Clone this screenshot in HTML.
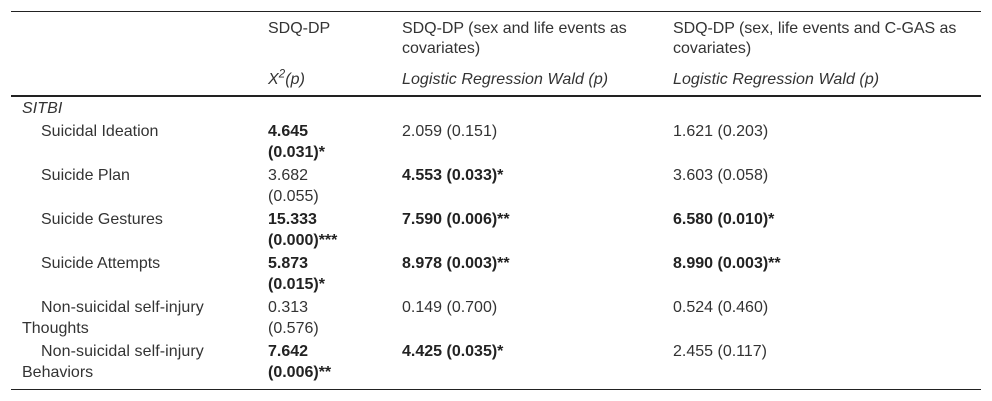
<!DOCTYPE html>
<html lang="en">
<head>
<meta charset="utf-8">
<title>SDQ-DP table</title>
<style>
html,body{margin:0;padding:0;background:#fff;}
#t{position:relative;width:992px;height:401px;overflow:hidden;font-family:"Liberation Sans",sans-serif;font-size:16px;color:#333;background:#fff;}
.l{position:absolute;white-space:nowrap;line-height:20px;height:20px;}
.r{position:absolute;left:11px;width:970px;background:#222;}
b{font-weight:bold;color:#222;}
i{font-style:italic;letter-spacing:.07px;}
sup{font-size:11.5px;line-height:0;}
</style>
</head>
<body>
<div id="t">
<div class="r" style="top:11px;height:1px"></div>
<div class="r" style="top:95px;height:2px"></div>
<div class="r" style="top:389px;height:1px"></div>

<div class="l" style="left:268px;top:19px">SDQ-DP</div>
<div class="l" style="left:402px;top:19px;letter-spacing:-.03px">SDQ-DP (sex and life events as</div>
<div class="l" style="left:402px;top:39px">covariates)</div>
<div class="l" style="left:673px;top:19px;letter-spacing:-.05px">SDQ-DP (sex, life events and C-GAS as</div>
<div class="l" style="left:673px;top:39px">covariates)</div>
<div class="l" style="left:268px;top:70px"><i>X<sup>2</sup>(p)</i></div>
<div class="l" style="left:402px;top:70px"><i>Logistic Regression Wald (p)</i></div>
<div class="l" style="left:673px;top:70px"><i>Logistic Regression Wald (p)</i></div>

<div class="l" style="left:22px;top:99px"><i>SITBI</i></div>

<div class="l" style="left:41px;top:122px">Suicidal Ideation</div>
<div class="l" style="left:268px;top:122px"><b>4.645</b></div>
<div class="l" style="left:268px;top:143px"><b>(0.031)*</b></div>
<div class="l" style="left:402px;top:122px">2.059 (0.151)</div>
<div class="l" style="left:673px;top:122px">1.621 (0.203)</div>

<div class="l" style="left:41px;top:166px">Suicide Plan</div>
<div class="l" style="left:268px;top:166px">3.682</div>
<div class="l" style="left:268px;top:187px">(0.055)</div>
<div class="l" style="left:402px;top:166px"><b>4.553 (0.033)*</b></div>
<div class="l" style="left:673px;top:166px">3.603 (0.058)</div>

<div class="l" style="left:41px;top:210px">Suicide Gestures</div>
<div class="l" style="left:268px;top:210px"><b>15.333</b></div>
<div class="l" style="left:268px;top:231px"><b>(0.000)***</b></div>
<div class="l" style="left:402px;top:210px"><b>7.590 (0.006)**</b></div>
<div class="l" style="left:673px;top:210px"><b>6.580 (0.010)*</b></div>

<div class="l" style="left:41px;top:254px">Suicide Attempts</div>
<div class="l" style="left:268px;top:254px"><b>5.873</b></div>
<div class="l" style="left:268px;top:275px"><b>(0.015)*</b></div>
<div class="l" style="left:402px;top:254px"><b>8.978 (0.003)**</b></div>
<div class="l" style="left:673px;top:254px"><b>8.990 (0.003)**</b></div>

<div class="l" style="left:41px;top:298px;letter-spacing:.08px">Non-suicidal self-injury</div>
<div class="l" style="left:22px;top:319px">Thoughts</div>
<div class="l" style="left:268px;top:298px">0.313</div>
<div class="l" style="left:268px;top:319px">(0.576)</div>
<div class="l" style="left:402px;top:298px">0.149 (0.700)</div>
<div class="l" style="left:673px;top:298px">0.524 (0.460)</div>

<div class="l" style="left:41px;top:342px;letter-spacing:.08px">Non-suicidal self-injury</div>
<div class="l" style="left:22px;top:363px">Behaviors</div>
<div class="l" style="left:268px;top:342px"><b>7.642</b></div>
<div class="l" style="left:268px;top:363px"><b>(0.006)**</b></div>
<div class="l" style="left:402px;top:342px"><b>4.425 (0.035)*</b></div>
<div class="l" style="left:673px;top:342px">2.455 (0.117)</div>
</div>
</body>
</html>
